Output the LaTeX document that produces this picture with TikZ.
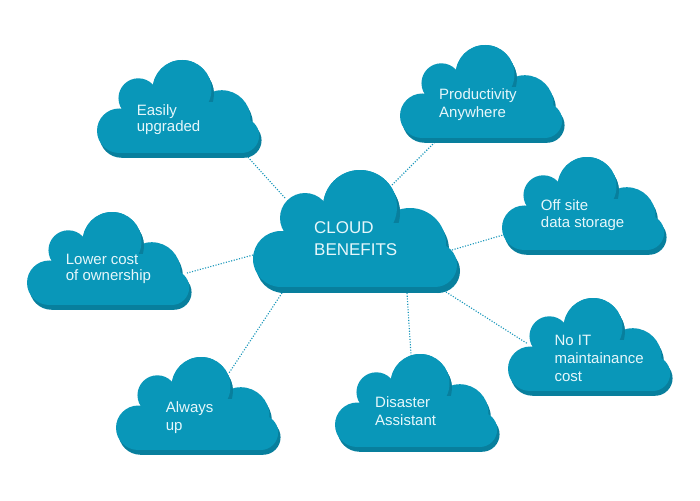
\documentclass[tikz,border=0pt]{standalone}
\usepackage{fontspec}
\setmainfont{Liberation Sans}
\definecolor{cmain}{RGB}{9,151,185}
\definecolor{cshad}{RGB}{8,127,157}
\definecolor{ctext}{RGB}{230,247,251}
\definecolor{cline}{RGB}{22,150,186}
\newcommand\cloudbody[1]{%
  \fill[#1] (28,89) circle[radius=28];
  \fill[#1] (52,48) circle[radius=25];
  \fill[#1] (107,37) circle[radius=37];
  \fill[#1] (157,74) circle[radius=36];
  \fill[#1] (182,95) circle[radius=22];
  \fill[#1] (40,55) rectangle (160,117);
  \fill[#1] (28,75) rectangle (182,117);
}
\newcommand\mycloud[3]{%
  \begin{scope}[shift={(#1,#2)},scale=#3]
    \begin{scope}[shift={(3,6)}]\cloudbody{cshad}\end{scope}
    \cloudbody{cmain}
    \begin{scope}
      \clip (134,8) rectangle (165,52);
      \fill[cshad] (110,43) circle[radius=37];
    \end{scope}
    \fill[cmain] (107,37) circle[radius=37];
  \end{scope}}
\begin{document}
\begin{tikzpicture}[x=1pt,y=-1pt,
  conn/.style={draw=cline,line width=1.1pt,dash pattern=on 1.1pt off 1.6pt},
  lbl/.style={text=ctext,inner sep=0pt,anchor=base west,font=\fontsize{15}{18}\selectfont},
  title/.style={text=ctext,inner sep=0pt,anchor=base west,font=\fontsize{17}{22}\selectfont}]
\fill[white] (0,0) rectangle (700,500);
\useasboundingbox (0,0) rectangle (700,500);
% connector end points
\coordinate (mA) at (285,198);   \coordinate (eA) at (246,155);
\coordinate (mB) at (392,185);   \coordinate (pB) at (435,142);
\coordinate (mC) at (452,250);   \coordinate (oC) at (503,235);
\coordinate (mD) at (253,255);   \coordinate (lD) at (187,273);
\coordinate (mE) at (282,293);   \coordinate (aE) at (229,373);
\coordinate (mF) at (407,293);   \coordinate (dF) at (411,355);
\coordinate (mG) at (446,292);   \coordinate (nG) at (528,344);
\draw[conn] (mA) -- (eA);
\draw[conn] (mB) -- (pB);
\draw[conn] (mC) -- (oC);
\draw[conn] (mD) -- (lD);
\draw[conn] (mE) -- (aE);
\draw[conn] (mF) -- (dF);
\draw[conn] (mG) -- (nG);
% clouds
\mycloud{253}{170}{1}
\mycloud{97}{60}{0.795}
\mycloud{400}{45}{0.795}
\mycloud{502}{157}{0.795}
\mycloud{27}{212}{0.795}
\mycloud{508}{298}{0.795}
\mycloud{116}{357}{0.795}
\mycloud{335}{354}{0.795}
% texts
\node[title] (tm1) at (314,233.3) {CLOUD};
\node[title] (tm2) at (314,255.7) {BENEFITS};
\node[lbl] (t1a) at (136.7,115.7) {Easily};
\node[lbl] (t1b) at (136.7,131.5) {upgraded};
\node[lbl] (t2a) at (439,99.3) {Productivity};
\node[lbl] (t2b) at (439,117.3) {Anywhere};
\node[lbl] (t3a) at (540.7,210) {Off site};
\node[lbl] (t3b) at (540.7,227.3) {data storage};
\node[lbl] (t4a) at (65.7,264) {Lower cost};
\node[lbl] (t4b) at (65.7,280.7) {of ownership};
\node[lbl] (t5a) at (554.3,345.7) {No IT};
\node[lbl] (t5b) at (554.3,363.3) {maintainance};
\node[lbl] (t5c) at (554.3,381) {cost};
\node[lbl] (t6a) at (165.7,412.7) {Always};
\node[lbl] (t6b) at (165.7,430) {up};
\node[lbl] (t7a) at (375,407.3) {Disaster};
\node[lbl] (t7b) at (375,425) {Assistant};
\end{tikzpicture}
\end{document}
